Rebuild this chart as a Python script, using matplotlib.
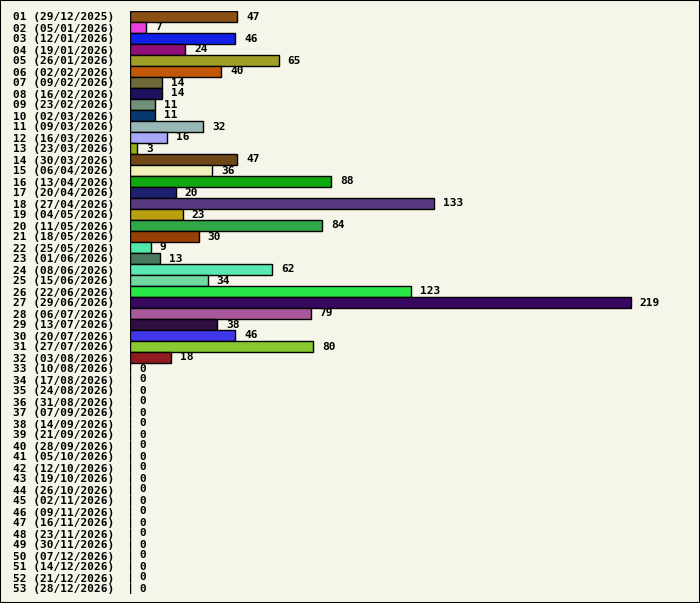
import matplotlib
matplotlib.use('Agg')
import matplotlib.pyplot as plt
from matplotlib.patches import Rectangle

# weekly counts, week number and monday date
weeks = ['01 (29/12/2025)', '02 (05/01/2026)', '03 (12/01/2026)', '04 (19/01/2026)',
         '05 (26/01/2026)', '06 (02/02/2026)', '07 (09/02/2026)', '08 (16/02/2026)',
         '09 (23/02/2026)', '10 (02/03/2026)', '11 (09/03/2026)', '12 (16/03/2026)',
         '13 (23/03/2026)', '14 (30/03/2026)', '15 (06/04/2026)', '16 (13/04/2026)',
         '17 (20/04/2026)', '18 (27/04/2026)', '19 (04/05/2026)', '20 (11/05/2026)',
         '21 (18/05/2026)', '22 (25/05/2026)', '23 (01/06/2026)', '24 (08/06/2026)',
         '25 (15/06/2026)', '26 (22/06/2026)', '27 (29/06/2026)', '28 (06/07/2026)',
         '29 (13/07/2026)', '30 (20/07/2026)', '31 (27/07/2026)', '32 (03/08/2026)',
         '33 (10/08/2026)', '34 (17/08/2026)', '35 (24/08/2026)', '36 (31/08/2026)',
         '37 (07/09/2026)', '38 (14/09/2026)', '39 (21/09/2026)', '40 (28/09/2026)',
         '41 (05/10/2026)', '42 (12/10/2026)', '43 (19/10/2026)', '44 (26/10/2026)',
         '45 (02/11/2026)', '46 (09/11/2026)', '47 (16/11/2026)', '48 (23/11/2026)',
         '49 (30/11/2026)', '50 (07/12/2026)', '51 (14/12/2026)', '52 (21/12/2026)',
         '53 (28/12/2026)']
counts = [47, 7, 46, 24, 65, 40, 14, 14, 11, 11, 32, 16, 3, 47, 36, 88,
          20, 133, 23, 84, 30, 9, 13, 62, 34, 123, 219, 79, 38, 46, 80, 18] + [0] * 21
bar_colors = ['#8b5014', '#e840e0', '#1020e8', '#901078', '#a0a028', '#c05808',
              '#706838', '#201060', '#709078', '#083870', '#98b8b8', '#a8a8f8',
              '#90b010', '#704818', '#f0f0b8', '#10a810', '#202070', '#583880',
              '#b8a010', '#30a848', '#984008', '#50e8a8', '#487860', '#58e8b0',
              '#70d8a0', '#28e848', '#380860', '#a85898', '#301040', '#4038e8',
              '#88c830', '#901c20'] + ['#ffffff'] * 21

bg = '#f5f5e9'
W, H = 700, 603
fig = plt.figure(figsize=(W / 100, H / 100), dpi=100, facecolor=bg)

# axes: bars start at x=130px, rows of 11px from y=11px
x0, x1 = 130, 690
y_top, y_bot = 11, 11 + 11 * len(weeks)
ax = fig.add_axes([x0 / W, 1 - y_bot / H, (x1 - x0) / W, (y_bot - y_top) / H])
ax.set_facecolor(bg)

ypos = list(range(len(weeks)))
ax.barh(ypos, counts, height=1.0, color=bar_colors, edgecolor='black', linewidth=1)

ax.set_xlim(0, (x1 - x0) / 2.286)
ax.set_ylim(len(weeks) - 0.5, -0.5)

font = dict(family='DejaVu Sans Mono', weight='bold', size=8.0)
ax.set_yticks(ypos)
ax.set_yticklabels(weeks, fontdict=font)
ax.tick_params(axis='y', length=0, pad=11.5)
ax.set_xticks([])
for s in ax.spines.values():
    s.set_visible(False)

for y, v in zip(ypos, counts):
    ax.annotate(str(v), (v, y), xytext=(6.5, 0), textcoords='offset points',
                va='center', ha='left', **font)

# black frame round the picture
fig.patches.append(Rectangle((0, 0), 1, 1, transform=fig.transFigure, fill=False,
                             edgecolor='black', linewidth=1.5, figure=fig))

fig.savefig('out.png', dpi=100, facecolor=bg)
